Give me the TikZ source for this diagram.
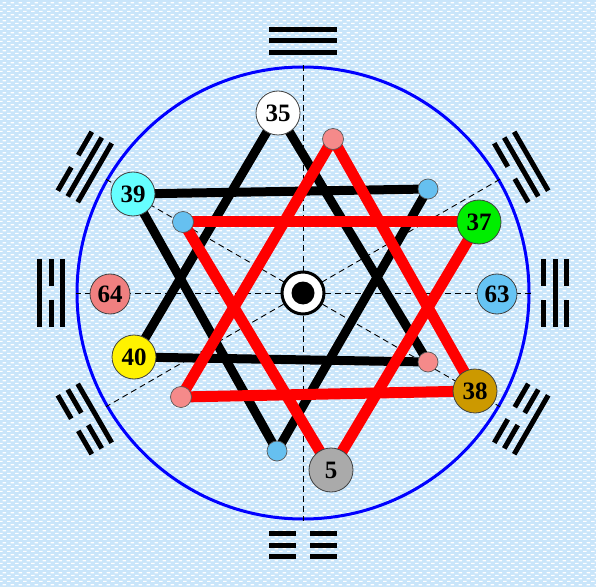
\documentclass[tikz,border=0pt]{standalone}
\usepackage{fontspec}
\setmainfont{Liberation Serif}
\usetikzlibrary{patterns}
\pgfdeclarelayer{back}
\pgfdeclarelayer{lines}
\pgfsetlayers{back,lines,main}
\pgfdeclarepatternformonly{bgdots}{\pgfpointorigin}{\pgfpoint{8pt}{6pt}}{\pgfpoint{8pt}{6pt}}{%
  \pgfpathrectangle{\pgfpoint{0pt}{0pt}}{\pgfpoint{4pt}{1.4pt}}%
  \pgfpathrectangle{\pgfpoint{4pt}{3pt}}{\pgfpoint{4pt}{1.4pt}}%
  \pgfusepath{fill}}
\definecolor{bgblue}{HTML}{C9E5FA}
\definecolor{hexcyan}{HTML}{66FFFF}
\definecolor{hexgreen}{HTML}{00EE00}
\definecolor{hexcoral}{HTML}{F08080}
\definecolor{hexsky}{HTML}{66C4F4}
\definecolor{hexgold}{HTML}{CC9900}
\definecolor{hexgray}{HTML}{AAAAAA}
\definecolor{dotpink}{HTML}{F58A8A}
\definecolor{dotblue}{HTML}{66C0F0}
\tikzset{
  hexnode/.style={circle, draw=black!75, line width=0.8pt, minimum size=44pt, inner sep=0pt,
    font=\fontsize{25}{25}\selectfont\bfseries},
  smallnode/.style={circle, draw=black!65, line width=0.7pt, minimum size=21pt, inner sep=0pt},
  blackline/.style={line width=9pt, black},
  redline/.style={line width=11pt, red},
  diameter/.style={line width=0.9pt, black, dash pattern=on 6pt off 4pt},
  trigstroke/.style={line width=5pt, black},
  ringstyle/.style={circle, draw=blue, line width=3pt, minimum size=452pt, inner sep=0pt}
}
\newcommand{\trigline}[2]{%
  \ifnum#2=1
    \draw[trigstroke] (-34,#1) -- (34,#1);
  \else
    \draw[trigstroke] (-34,#1) -- (-7,#1) (7,#1) -- (34,#1);
  \fi}
\newcommand{\trigram}[4]{%
  \begin{scope}[shift={(303,294)}, rotate=#1-90]
    \trigline{240.5}{#2}\trigline{252}{#3}\trigline{263.5}{#4}
  \end{scope}}
\begin{document}
\begin{tikzpicture}[x=1pt, y=1pt]
\useasboundingbox (0,0) rectangle (596,587);
\begin{pgfonlayer}{back}
  \fill[bgblue] (0,0) rectangle (596,587);
  \fill[pattern=bgdots, pattern color=white] (0,0) rectangle (596,587);
  \node[ringstyle] (ring) at (303,294) {};
  \draw[diameter] (ring.0) -- (ring.180);
  \draw[diameter] (ring.90) -- (ring.270);
  \draw[diameter] (ring.30) -- (ring.210);
  \draw[diameter] (ring.150) -- (ring.330);
  \trigram{90}{1}{1}{1}
  \trigram{150}{1}{1}{0}
  \trigram{180}{1}{0}{1}
  \trigram{210}{1}{0}{0}
  \trigram{270}{0}{0}{0}
  \trigram{330}{0}{0}{1}
  \trigram{0}{0}{1}{0}
  \trigram{30}{0}{1}{1}
\end{pgfonlayer}

% nodes
\node[hexnode, fill=white] (n35) at (278,474) {35};
\node[hexnode, fill=hexcyan] (n39) at (133,393) {39};
\node[hexnode, fill=hexgreen] (n37) at (479,365) {37};
\node[hexnode, fill=hexcoral, minimum size=40pt] (n64) at (110,293) {64};
\node[hexnode, fill=hexsky, minimum size=40pt] (n63) at (497,293) {63};
\node[hexnode, fill=yellow] (n40) at (134,230) {40};
\node[hexnode, fill=hexgold] (n38) at (475,196) {38};
\node[hexnode, fill=hexgray] (n5) at (331,117) {5};
\node[smallnode, fill=dotpink] (p1) at (333,448) {};
\node[smallnode, fill=dotblue, minimum size=20pt] (b1) at (428,398) {};
\node[smallnode, fill=dotblue] (b2) at (183,365) {};
\node[smallnode, fill=dotpink, minimum size=20pt] (p2) at (428,225) {};
\node[smallnode, fill=dotpink] (p3) at (181,190) {};
\node[smallnode, fill=dotblue, minimum size=20pt] (b3) at (277,136) {};
\node[circle, draw=black, line width=3pt, fill=white, minimum size=42pt, inner sep=0pt] (ctr) at (303,294) {};
\node[circle, fill=black, minimum size=23pt, inner sep=0pt] (ctrin) at (303,294) {};

\begin{pgfonlayer}{lines}
  % black triangles
  \draw[blackline] (n35.center) -- (n40.center);
  \draw[blackline] (n40.center) -- (p2.center);
  \draw[blackline] (p2.center) -- (n35.center);
  \draw[blackline] (n39.center) -- (b1.center);
  \draw[blackline] (b1.center) -- (b3.center);
  \draw[blackline] (b3.center) -- (n39.center);
  % red triangles
  \draw[redline] (p1.center) -- (p3.center);
  \draw[redline] (p3.center) -- (n38.center);
  \draw[redline] (n38.center) -- (p1.center);
  \draw[redline] (b2.center) -- (n37.center);
  \draw[redline] (n37.center) -- (n5.center);
  \draw[redline] (n5.center) -- (b2.center);
\end{pgfonlayer}
\end{tikzpicture}
\end{document}
